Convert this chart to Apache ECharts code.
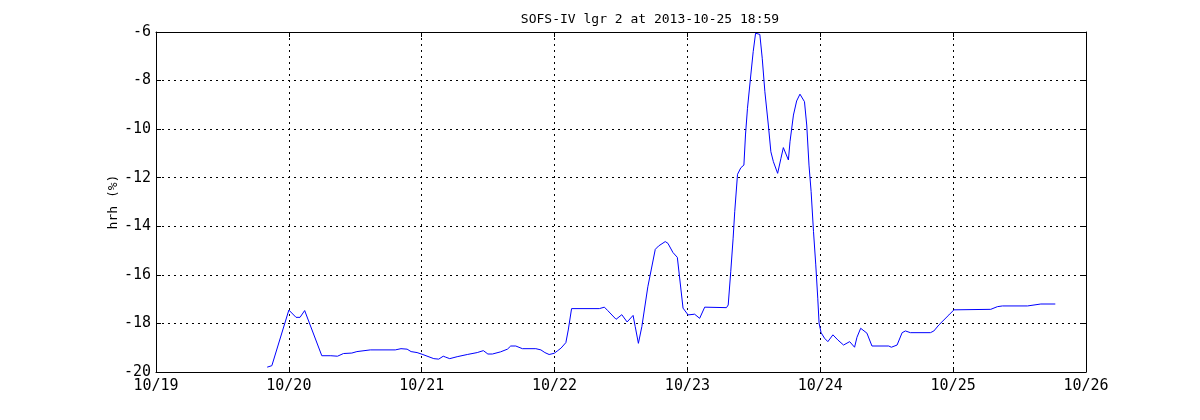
<!DOCTYPE html>
<html>
<head>
<meta charset="utf-8">
<script src="https://cdn.jsdelivr.net/npm/echarts@6/dist/echarts.min.js"></script>
<style>html,body{margin:0;padding:0;background:#fff}#c{width:1200px;height:420px}</style>
</head>
<body>
<div id="c"></div>
<script>
const titleText = 'SOFS-IV lgr 2 at 2013-10-25 18:59';
const yLabel = 'hrh (%)';
const monthPrefix = '10/';
// time in day-of-month (October 2013), fractional
const dayOfMonth = [19.837,19.872,20.000,20.054,20.084,20.119,20.248,20.316,20.366,20.411,20.474,20.512,20.613,20.801,20.844,20.890,20.920,20.965,21.003,21.091,21.128,21.162,21.181,21.211,21.267,21.343,21.418,21.464,21.498,21.532,21.594,21.645,21.670,21.708,21.758,21.859,21.897,21.927,21.959,21.997,22.024,22.048,22.085,22.103,22.128,22.337,22.375,22.400,22.463,22.506,22.546,22.591,22.607,22.631,22.657,22.702,22.758,22.783,22.833,22.853,22.891,22.924,22.967,23.005,23.054,23.092,23.130,23.294,23.307,23.326,23.344,23.356,23.377,23.402,23.425,23.437,23.452,23.477,23.495,23.513,23.545,23.563,23.583,23.609,23.628,23.647,23.679,23.704,23.722,23.760,23.772,23.798,23.822,23.847,23.881,23.898,23.915,23.931,23.949,23.966,23.981,23.991,24.006,24.032,24.057,24.095,24.132,24.175,24.221,24.258,24.276,24.304,24.351,24.389,24.515,24.535,24.578,24.616,24.641,24.678,24.829,24.855,24.893,24.968,25.006,25.018,25.283,25.333,25.371,25.560,25.573,25.660,25.769];
const hrh = [-19.80,-19.74,-17.45,-17.75,-17.75,-17.47,-19.33,-19.33,-19.35,-19.24,-19.22,-19.16,-19.09,-19.09,-19.04,-19.06,-19.16,-19.20,-19.27,-19.45,-19.47,-19.35,-19.39,-19.45,-19.37,-19.28,-19.20,-19.12,-19.26,-19.26,-19.17,-19.06,-18.93,-18.93,-19.04,-19.04,-19.09,-19.20,-19.28,-19.23,-19.12,-19.02,-18.79,-18.27,-17.39,-17.39,-17.33,-17.47,-17.83,-17.64,-17.94,-17.67,-18.13,-18.82,-18.13,-16.49,-14.95,-14.81,-14.63,-14.70,-15.08,-15.28,-17.37,-17.65,-17.62,-17.79,-17.33,-17.35,-17.24,-15.87,-14.49,-13.40,-11.86,-11.59,-11.48,-10.24,-9.14,-7.77,-6.81,-6.05,-6.10,-7.08,-8.46,-9.83,-10.93,-11.34,-11.82,-11.20,-10.76,-11.27,-10.52,-9.42,-8.84,-8.56,-8.87,-9.83,-11.48,-12.57,-14.22,-15.59,-16.96,-17.99,-18.38,-18.61,-18.75,-18.47,-18.68,-18.89,-18.75,-18.98,-18.57,-18.20,-18.40,-18.93,-18.93,-18.98,-18.89,-18.38,-18.31,-18.38,-18.38,-18.31,-18.06,-17.65,-17.44,-17.42,-17.42,-17.31,-17.28,-17.28,-17.24,-17.20,-17.20];
const xTicks = [19,20,21,22,23,24,25,26];
const yTicks = [-20,-18,-16,-14,-12,-10,-8,-6];

const font = 'DejaVu Sans Mono';
const gridLine = {show:true, lineStyle:{color:'#000', width:1, type:[2,4]}};
const axisLine = {show:true, onZero:false, lineStyle:{color:'#000', width:1}};
const tick = {show:true, inside:true, length:5, lineStyle:{color:'#000'}};

const chart = echarts.init(document.getElementById('c'), null, {renderer:'canvas'});
chart.setOption({
  animation:false,
  backgroundColor:'#fff',
  title:{text:titleText, left:645, top:8, textAlign:'center',
    textStyle:{fontFamily:font, fontSize:13, fontWeight:'normal', color:'#000'}},
  grid:{left:156, right:114, top:32, bottom:48, containLabel:false},
  xAxis:[
    {type:'value', min:xTicks[0], max:xTicks[xTicks.length-1], interval:1, position:'bottom',
     axisLine:axisLine, axisTick:tick, splitLine:gridLine,
     axisLabel:{show:true, margin:7, color:'#000', fontFamily:font, fontSize:15,
       formatter:v=>monthPrefix+v}},
    {type:'value', min:xTicks[0], max:xTicks[xTicks.length-1], interval:1, position:'top',
     axisLine:axisLine, axisTick:tick, splitLine:{show:false}, axisLabel:{show:false}}
  ],
  yAxis:[
    {type:'value', min:yTicks[0], max:yTicks[yTicks.length-1], interval:2, position:'left',
     name:yLabel, nameLocation:'middle', nameGap:36, nameRotate:90, nameMoveOverlap:false,
     nameTextStyle:{fontFamily:font, fontSize:13, color:'#000'},
     axisLine:axisLine, axisTick:tick, splitLine:gridLine,
     axisLabel:{show:true, margin:5, color:'#000', fontFamily:font, fontSize:15,
       formatter:v=>String(v)}},
    {type:'value', min:yTicks[0], max:yTicks[yTicks.length-1], interval:2, position:'right',
     axisLine:axisLine, axisTick:tick, splitLine:{show:false}, axisLabel:{show:false}}
  ],
  series:[{
    type:'line', xAxisIndex:0, yAxisIndex:0,
    data:dayOfMonth.map((d,i)=>[d,hrh[i]]),
    showSymbol:false, symbol:'none',
    lineStyle:{color:'#0000ff', width:1},
    itemStyle:{color:'#0000ff'}
  }]
});
</script>
</body>
</html>
